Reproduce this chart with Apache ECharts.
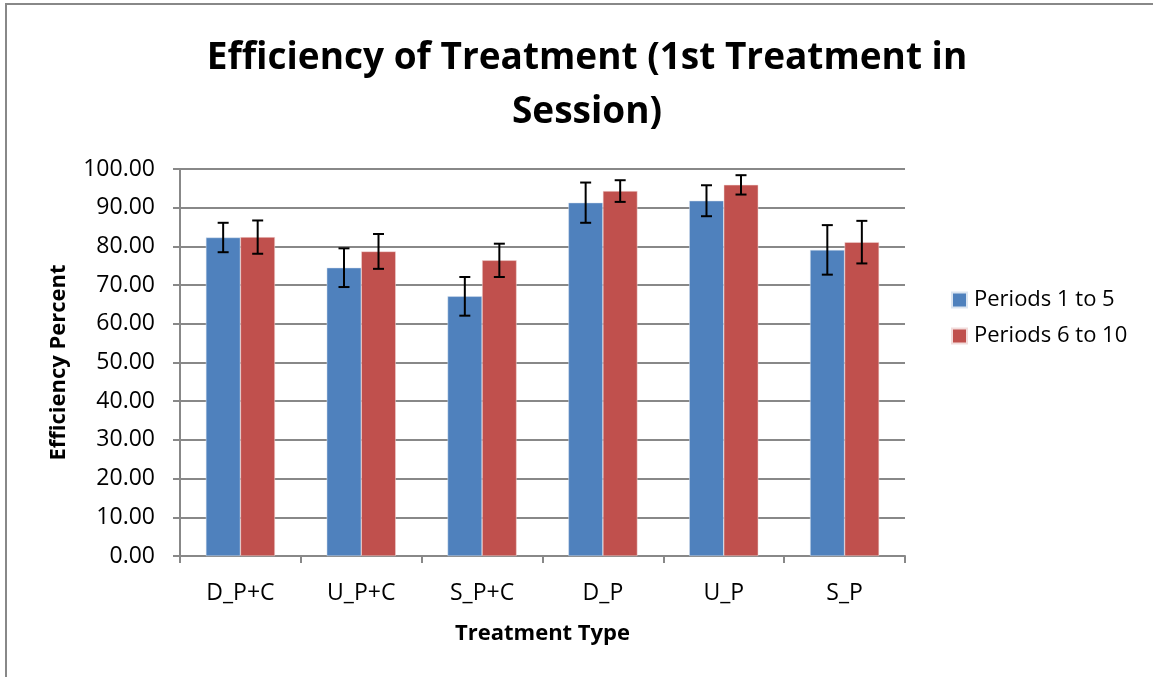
<!DOCTYPE html>
<html>
<head>
<meta charset="utf-8">
<script src="https://cdn.jsdelivr.net/npm/echarts@6/dist/echarts.min.js"></script>
<style>
  html, body { margin: 0; padding: 0; background: #fff; }
  #chart { width: 1153px; height: 677px; }
</style>
</head>
<body>
<div id="chart"></div>
<script>
// values
const categories = ['D_P+C', 'U_P+C', 'S_P+C', 'D_P', 'U_P', 'S_P']
const seriesNames = ['Periods 1 to 5', 'Periods 6 to 10']
const early = [82.3, 74.5, 67.1, 91.3, 91.8, 79.1]
const earlyErr = [3.8, 5.0, 5.0, 5.2, 4.0, 6.4]
const late = [82.4, 78.7, 76.4, 94.3, 95.9, 81.1]
const lateErr = [4.3, 4.5, 4.3, 2.8, 2.5, 5.5]

const colorList = ['#4F81BD', '#C0504D']
const fontFamily = '"Open Sans", "Noto Sans", sans-serif'

const chart = echarts.init(document.getElementById('chart'))

// error bar drawn on top of each bar, offset to the bar's half of the group
function errorSeries(values, errs, offsetIdx) {
  return {
    type: 'custom',
    name: 'err' + offsetIdx,
    z: 10,
    silent: true,
    data: values.map((v, i) => [i, v - errs[i], v + errs[i]]),
    renderItem(params, api) {
      const lo = api.coord([api.value(0), api.value(1)])
      const hi = api.coord([api.value(0), api.value(2)])
      const band = api.size([1, 0])[0]
      const barW = band / 3.5
      const x = lo[0] + (offsetIdx === 0 ? -barW / 2 : barW / 2)
      const cap = 5.5
      const style = { stroke: '#000', lineWidth: 2 }
      return {
        type: 'group',
        children: [
          { type: 'line', shape: { x1: x, y1: hi[1], x2: x, y2: lo[1] }, style },
          { type: 'line', shape: { x1: x - cap, y1: hi[1], x2: x + cap, y2: hi[1] }, style },
          { type: 'line', shape: { x1: x - cap, y1: lo[1], x2: x + cap, y2: lo[1] }, style }
        ]
      }
    }
  }
}

chart.setOption({
  animation: false,
  textStyle: { fontFamily },
  title: {
    text: 'Efficiency of Treatment (1st Treatment in\nSession)',
    left: 582,
    textAlign: 'center',
    top: 26,
    textStyle: {
      fontFamily,
      fontSize: 37,
      fontWeight: 'bold',
      color: '#000',
      lineHeight: 54
    }
  },
  graphic: [{
    type: 'rect',
    shape: { x: 6, y: 4, width: 1200, height: 700 },
    style: { fill: 'none', stroke: '#888', lineWidth: 2 },
    silent: true
  }],
  legend: {
    orient: 'vertical',
    left: 946,
    top: 284,
    itemWidth: 15,
    itemHeight: 15,
    itemGap: 14,
    icon: 'rect',
    data: seriesNames,
    textStyle: { fontFamily, fontSize: 22, color: '#000', padding: [0, 0, 0, 2] }
  },
  grid: {
    left: 180,
    right: 248,
    top: 169,
    bottom: 121
  },
  xAxis: {
    type: 'category',
    data: categories,
    name: 'Treatment Type',
    nameLocation: 'center',
    nameGap: 67,
    nameTextStyle: { fontFamily, fontSize: 22, fontWeight: 'bold', color: '#000' },
    axisLine: { lineStyle: { color: '#888', width: 2 } },
    axisTick: { show: true, length: 7, lineStyle: { color: '#888', width: 2 } },
    axisLabel: { fontFamily, fontSize: 23, color: '#000', margin: 26 }
  },
  yAxis: {
    type: 'value',
    min: 0,
    max: 100,
    interval: 10,
    name: 'Efficiency Percent',
    nameLocation: 'center',
    nameGap: 110,
    nameRotate: 90,
    nameTextStyle: { fontFamily, fontSize: 22, fontWeight: 'bold', color: '#000' },
    axisLine: { show: true, lineStyle: { color: '#888', width: 2 } },
    axisTick: { show: true, length: 7, lineStyle: { color: '#888', width: 2 } },
    axisLabel: {
      fontFamily,
      fontSize: 23,
      color: '#000',
      margin: 25,
      formatter: v => v.toFixed(2)
    },
    splitLine: { lineStyle: { color: '#888', width: 2 } }
  },
  series: [{
    name: seriesNames[0],
    type: 'bar',
    data: early,
    barGap: '0%',
    barCategoryGap: '42.86%',
    itemStyle: { color: colorList[0], borderColor: '#dbe5f1', borderWidth: 0.5 }
  }, {
    name: seriesNames[1],
    type: 'bar',
    data: late,
    barGap: '0%',
    barCategoryGap: '42.86%',
    itemStyle: { color: colorList[1], borderColor: '#f2dcdb', borderWidth: 0.5 }
  },
  errorSeries(early, earlyErr, 0),
  errorSeries(late, lateErr, 1)
  ]
})
</script>
</body>
</html>
